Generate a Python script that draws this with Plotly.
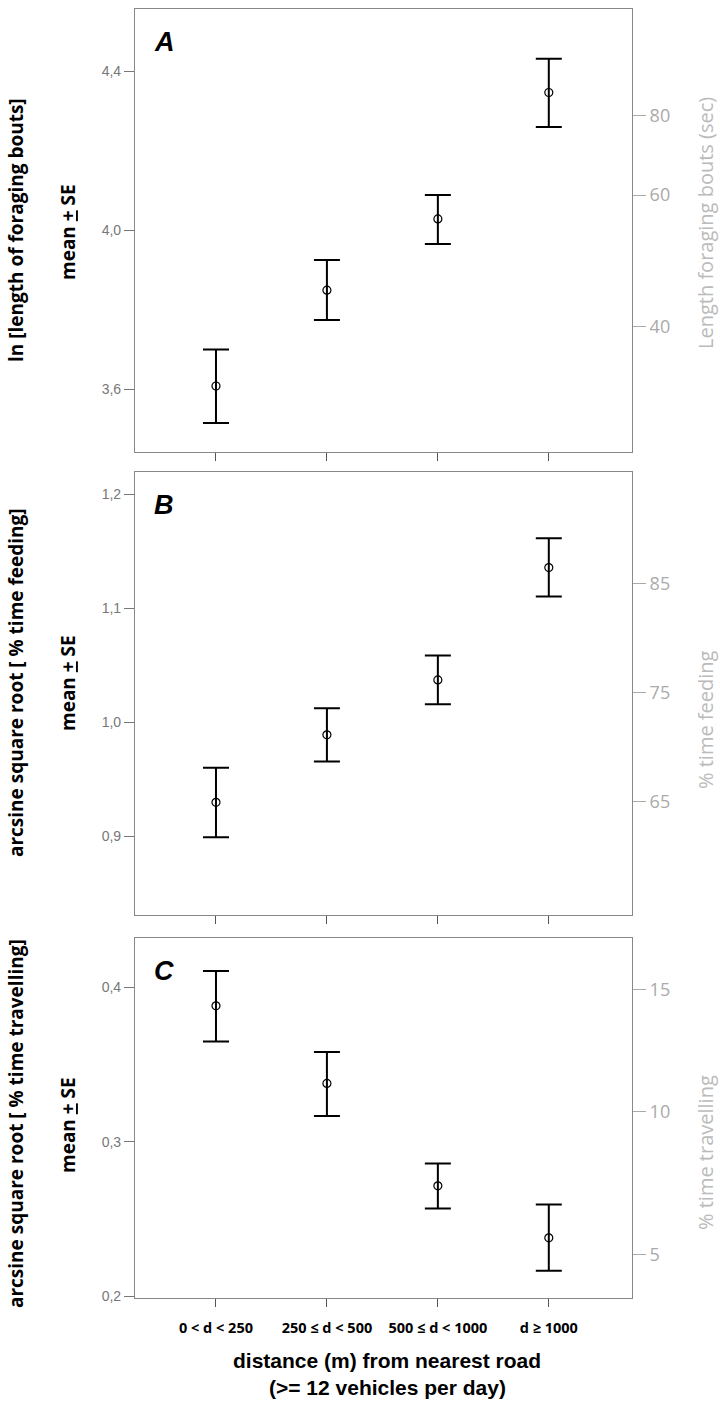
import plotly.graph_objects as go

W, H = 720, 1402

categories = ["0 < d < 250", "250 ≤ d < 500", "500 ≤ d < 1000", "d ≥ 1000"]

# Panel A: ln[length of foraging bouts]
a_mean = [3.608, 3.849, 4.028, 4.346]
a_upper = [3.700, 3.925, 4.088, 4.431]
a_lower = [3.515, 3.774, 3.965, 4.259]
a_left_ticks = [3.6, 4.0, 4.4]
a_left_text = ["3,6", "4,0", "4,4"]
a_right_pos = [3.758, 4.088, 4.287]
a_right_text = ["40", "60", "80"]

# Panel B: arcsine square root [% time feeding]
b_mean = [0.9296, 0.9889, 1.0371, 1.1357]
b_upper = [0.960, 1.0123, 1.0585, 1.1614]
b_lower = [0.899, 0.9655, 1.0158, 1.1103]
b_left_ticks = [0.9, 1.0, 1.1, 1.2]
b_left_text = ["0,9", "1,0", "1,1", "1,2"]
b_right_pos = [0.9301, 1.0263, 1.1219]
b_right_text = ["65", "75", "85"]

# Panel C: arcsine square root [% time travelling]
c_mean = [0.388, 0.3378, 0.2716, 0.2379]
c_upper = [0.4105, 0.3582, 0.2860, 0.2595]
c_lower = [0.365, 0.3168, 0.2569, 0.2166]
c_left_ticks = [0.2, 0.3, 0.4]
c_left_text = ["0,2", "0,3", "0,4"]
c_right_pos = [0.2272, 0.3194, 0.3983]
c_right_text = ["5", "10", "15"]

panels = [
    dict(mean=a_mean, up=a_upper, lo=a_lower, lt=a_left_ticks, ltx=a_left_text,
         rp=a_right_pos, rtx=a_right_text, rng=[3.442, 4.556], top=9, bot=452,
         letter="A", ltitle="ln [length of foraging bouts]", lmid=230, mmid=232,
         rtitle="Length foraging bouts (sec)", rmid=223),
    dict(mean=b_mean, up=b_upper, lo=b_lower, lt=b_left_ticks, ltx=b_left_text,
         rp=b_right_pos, rtx=b_right_text, rng=[0.8307, 1.2196], top=472, bot=915,
         letter="B", ltitle="arcsine square root [ % time feeding]", lmid=683, mmid=683,
         rtitle="% time feeding", rmid=720),
    dict(mean=c_mean, up=c_upper, lo=c_lower, lt=c_left_ticks, ltx=c_left_text,
         rp=c_right_pos, rtx=c_right_text, rng=[0.199, 0.4319], top=938, bot=1298,
         letter="C", ltitle="arcsine square root [ % time travelling]", lmid=1124, mmid=1125,
         rtitle="% time travelling", rmid=1153),
]

X_L, X_R = 135, 632
xrange_ = [-0.73, 3.75]

fig = go.Figure()
layout = dict(
    width=W, height=H, margin=dict(l=0, r=0, t=0, b=0),
    paper_bgcolor="white", plot_bgcolor="white", showlegend=False,
    annotations=[],
)

def px(x):
    return x / W

def py(y):
    return 1 - y / H

def ann(text, x, y, size, family, color="black", angle=0):
    return dict(text=text, x=px(x), y=py(y), xref="paper", yref="paper",
                showarrow=False, textangle=angle, xanchor="center", yanchor="middle",
                font=dict(family=family, size=size, color=color))

for i, p in enumerate(panels):
    n = i + 1
    xa = "xaxis" if n == 1 else f"xaxis{n}"
    ya = "yaxis" if n == 1 else f"yaxis{n}"
    yr = f"yaxis{n + 3}"
    xref = "x" if n == 1 else f"x{n}"
    yref = "y" if n == 1 else f"y{n}"
    yrref = f"y{n + 3}"
    xs = list(range(len(categories)))
    fig.add_trace(go.Scatter(
        x=xs, y=p["mean"], xaxis=xref, yaxis=yref, mode="markers",
        marker=dict(symbol="circle-open", size=8, color="black", line=dict(width=1.2)),
        error_y=dict(type="data", symmetric=False,
                     array=[u - m for u, m in zip(p["up"], p["mean"])],
                     arrayminus=[m - l for m, l in zip(p["mean"], p["lo"])],
                     color="black", thickness=2, width=13),
        hoverinfo="skip",
    ))
    fig.add_trace(go.Scatter(x=[None], y=[None], xaxis=xref, yaxis=yrref,
                             mode="markers", hoverinfo="skip"))
    dom_y = [py(p["bot"]), py(p["top"])]
    layout[xa] = dict(
        domain=[px(X_L), px(X_R)], range=xrange_, anchor=yref,
        tickvals=xs, ticktext=categories if n == 3 else [""] * 4,
        ticks="outside", ticklen=8, tickcolor="#555", tickwidth=1.2,
        showline=True, linecolor="#888", linewidth=1.2, mirror=True,
        showgrid=False, zeroline=False, automargin=False, ticklabelstandoff=8,
        tickfont=dict(family="Open Sans", size=14.5, color="black", weight="bold"),
    )
    layout[ya] = dict(
        domain=dom_y, range=p["rng"], anchor=xref,
        tickvals=p["lt"], ticktext=p["ltx"],
        ticks="outside", ticklen=10, tickcolor="#777", tickwidth=1,
        showline=True, linecolor="#888", linewidth=1.2, mirror=True,
        showgrid=False, zeroline=False, automargin=False,
        tickfont=dict(family="Liberation Sans", size=14, color="#777"),
    )
    layout[yr] = dict(
        range=p["rng"], overlaying=yref, side="right", anchor=xref,
        tickvals=p["rp"], ticktext=p["rtx"],
        ticks="outside", ticklen=13, tickcolor="#aaa", tickwidth=1,
        showline=False, showgrid=False, zeroline=False, automargin=False,
        tickfont=dict(family="Open Sans", size=18, color="#aaaaaa"),
    )
    layout["annotations"] += [
        ann(f"<b><i>{p['letter']}</i></b>", 164, p["top"] + 33, 27, "Liberation Sans"),
        ann(f"<b>{p['ltitle']}</b>", 16, p["lmid"], 19, "Open Sans", angle=-90),
        ann("<b>mean <span style='text-decoration:underline'>+</span> SE</b>",
            68, p["mmid"], 19, "Open Sans", angle=-90),
        ann(p["rtitle"], 705, p["rmid"], 20, "Open Sans", color="#bbbbbb", angle=-90),
    ]

layout["annotations"] += [
    ann("<b>distance (m) from nearest road</b>", 387, 1360, 21, "Liberation Sans"),
    ann("<b>(>= 12 vehicles per day)</b>", 387, 1387, 21, "Liberation Sans"),
]

fig.update_layout(**layout)
fig.write_html("out.html", config={"displayModeBar": False},
               post_script="document.body.style.margin='0';")
